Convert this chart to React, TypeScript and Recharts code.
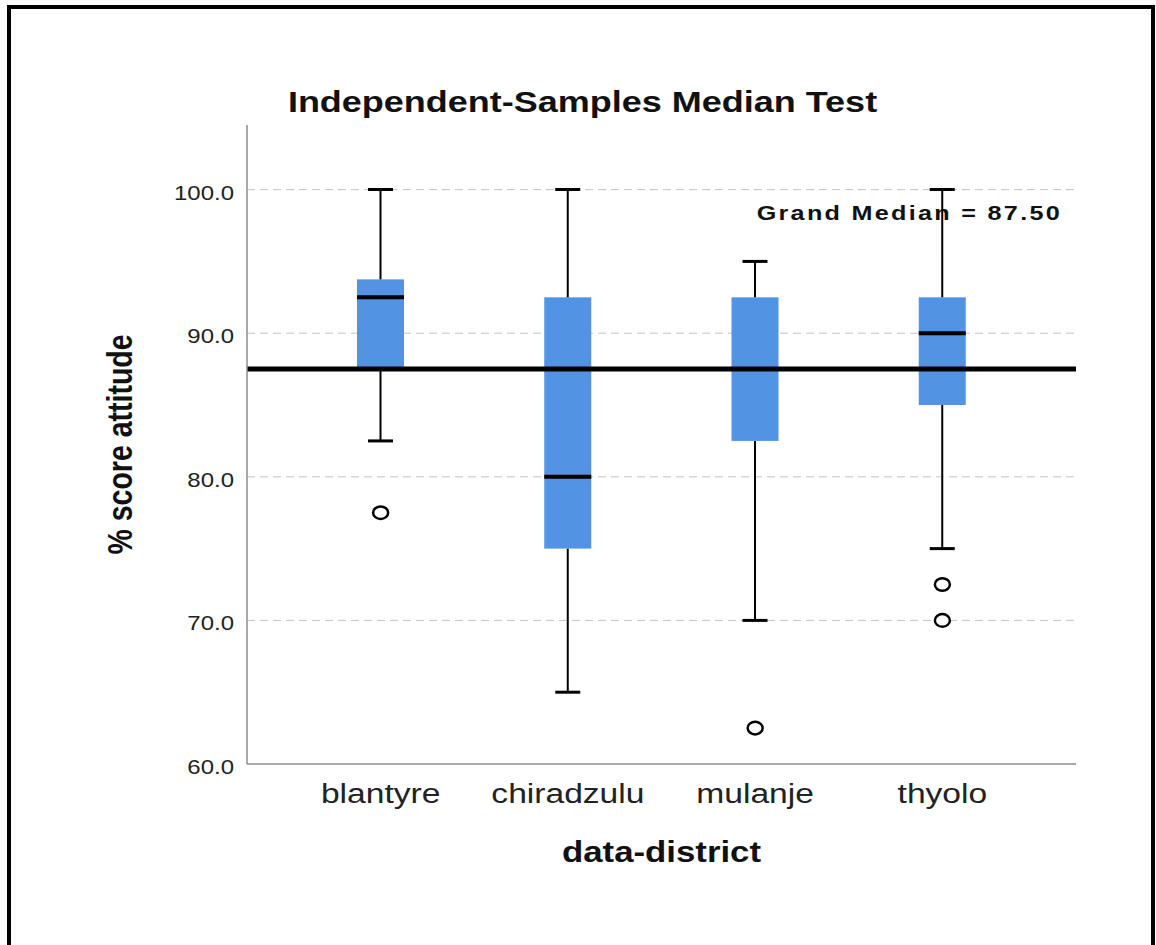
import React from 'react';
import { ComposedChart, Bar, Line, XAxis, YAxis, CartesianGrid, ReferenceLine } from 'recharts';

const districts = ['blantyre', 'chiradzulu', 'mulanje', 'thyolo'];
const whiskerLow = [82.5, 65, 70, 75];
const quartile1 = [87.5, 75, 82.5, 85];
const medians = [92.5, 80, 87.5, 90];
const quartile3 = [93.75, 92.5, 92.5, 92.5];
const whiskerHigh = [100, 100, 95, 100];
const outliersA = [77.5, null, 62.5, 72.5];
const outliersB = [null, null, null, 70];
const yTicks = [60, 70, 80, 90, 100];
const gridValues = [70, 80, 90, 100];
const GRAND_MEDIAN = 87.5;

const FONT = '"Liberation Sans", Arial, sans-serif';
const BOX_BLUE = '#5393e3';
const SX = 1.2; // the source image is stretched horizontally

// stacked segments: base -> low whisker -> lower box -> upper box -> high whisker
const data = districts.map((district, i) => ({
  district,
  base: whiskerLow[i],
  lowWhisker: quartile1[i] - whiskerLow[i],
  lowBox: medians[i] - quartile1[i],
  highBox: quartile3[i] - medians[i],
  highWhisker: whiskerHigh[i] - quartile3[i],
  outA: outliersA[i],
  outB: outliersB[i],
}));

const whisker = (capAtTop: boolean) => (p: any) => {
  const cx = p.x + p.width / 2;
  const capY = capAtTop ? p.y : p.y + p.height;
  return (
    <g>
      <line x1={cx} x2={cx} y1={p.y} y2={p.y + p.height} stroke="#000" strokeWidth={2} />
      <line x1={cx - 12.5} x2={cx + 12.5} y1={capY} y2={capY} stroke="#000" strokeWidth={3} />
    </g>
  );
};

const LowBox = (p: any) => <rect x={p.x} y={p.y} width={p.width} height={p.height} fill={BOX_BLUE} />;

const HighBox = (p: any) => (
  <g>
    <rect x={p.x} y={p.y} width={p.width} height={p.height} fill={BOX_BLUE} />
    <line x1={p.x} x2={p.x + p.width} y1={p.y + p.height} y2={p.y + p.height} stroke="#000" strokeWidth={4} />
  </g>
);

const outlierDot = (p: any) => {
  if (p.value == null || p.cy == null) return <g key={`o-${p.dataKey}-${p.index}`} />;
  return (
    <ellipse key={`o-${p.dataKey}-${p.index}`} cx={p.cx} cy={p.cy} rx={7.5} ry={6.3}
      fill="#fff" stroke="#000" strokeWidth={2.5} />
  );
};

const YTick = ({ x, y, payload }: any) => (
  <g transform={`translate(${x - 13},${y + 10}) scale(${SX},1)`}>
    <text textAnchor="end" fontSize={20} fill="#222" fontFamily={FONT}>{Number(payload.value).toFixed(1)}</text>
  </g>
);

const XTick = ({ x, y, payload }: any) => (
  <g transform={`translate(${x},${y + 39}) scale(${SX},1)`}>
    <text textAnchor="middle" fontSize={28} fill="#222" fontFamily={FONT}>{payload.value}</text>
  </g>
);

const XTitle = ({ viewBox }: any) => (
  <g transform={`translate(${viewBox.x + viewBox.width / 2},862) scale(${SX},1)`}>
    <text textAnchor="middle" fontSize={29} fontWeight="bold" fill="#111" fontFamily={FONT}>data-district</text>
  </g>
);

const YTitle = ({ viewBox }: any) => (
  <g transform={`translate(132,${viewBox.y + viewBox.height / 2}) scale(${SX},1) rotate(-90)`}>
    <text textAnchor="middle" fontSize={28.5} fontWeight="bold" fill="#111" fontFamily={FONT}>% score attitude</text>
  </g>
);

export default function App() {
  return (
    <div style={{ position: 'absolute', left: 0, top: 0, width: 1156, height: 945, overflow: 'hidden', background: '#fff' }}>
      <div style={{ position: 'absolute', left: 7, top: 5, width: 1148, height: 1100, border: '4px solid #000', boxSizing: 'border-box' }} />
      <ComposedChart width={1156} height={945} data={data}
        margin={{ top: 125, right: 80, left: 187, bottom: 141 }} style={{ fontFamily: FONT }}>
        <CartesianGrid vertical={false} horizontalValues={gridValues} stroke="#c4c4c4" strokeDasharray="8 5" />
        <XAxis dataKey="district" interval={0} height={40} padding={{ left: 40, right: 40 }}
          tickLine={false} tickSize={0} tickMargin={0} tick={<XTick />}
          axisLine={{ stroke: '#8c8c8c', strokeWidth: 1.5 }} label={{ content: XTitle }} />
        <YAxis type="number" domain={[60, 104.5]} ticks={yTicks} allowDataOverflow width={60}
          tickLine={false} tickSize={0} tickMargin={0} tick={<YTick />}
          axisLine={{ stroke: '#8c8c8c', strokeWidth: 1.5 }} label={{ content: YTitle }} />
        <Bar dataKey="base" stackId="box" barSize={47} fill="none" shape={() => <g />} isAnimationActive={false} />
        <Bar dataKey="lowWhisker" stackId="box" barSize={47} shape={whisker(false)} isAnimationActive={false} />
        <Bar dataKey="lowBox" stackId="box" barSize={47} shape={LowBox} isAnimationActive={false} />
        <Bar dataKey="highBox" stackId="box" barSize={47} shape={HighBox} isAnimationActive={false} />
        <Bar dataKey="highWhisker" stackId="box" barSize={47} shape={whisker(true)} isAnimationActive={false} />
        <ReferenceLine y={GRAND_MEDIAN} stroke="#000" strokeWidth={5} />
        <Line dataKey="outA" stroke="none" dot={outlierDot} activeDot={false} isAnimationActive={false} />
        <Line dataKey="outB" stroke="none" dot={outlierDot} activeDot={false} isAnimationActive={false} />
      </ComposedChart>
      <svg width={1156} height={945} style={{ position: 'absolute', left: 0, top: 0, pointerEvents: 'none' }}>
        <g transform={`translate(582.5,112) scale(${SX},1)`}>
          <text textAnchor="middle" fontSize={30} fontWeight="bold" fill="#111" fontFamily={FONT}>
            Independent-Samples Median Test
          </text>
        </g>
        <g transform={`translate(1062,220) scale(${SX},1)`}>
          <text textAnchor="end" fontSize={21} fontWeight="bold" letterSpacing={1.9} fill="#111" fontFamily={FONT}>
            Grand Median = {GRAND_MEDIAN.toFixed(2)}
          </text>
        </g>
      </svg>
    </div>
  );
}
